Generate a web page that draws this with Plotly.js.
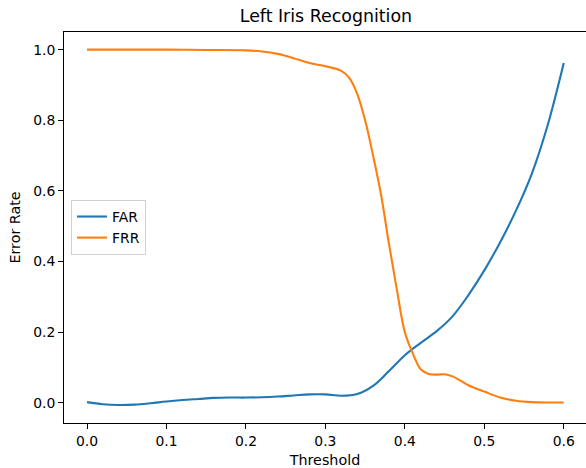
<!DOCTYPE html>
<html>
<head>
<meta charset="utf-8">
<script src="https://cdn.plot.ly/plotly-3.0.1.min.js"></script>
<style>html,body{margin:0;padding:0;background:#fff;}#chart{width:586px;height:468px;}</style>
</head>
<body>
<div id="chart"></div>
<script>
const farX = [0.00,0.02,0.04,0.06,0.08,0.10,0.12,0.14,0.16,0.18,0.20,0.22,0.24,0.26,0.28,0.30,0.32,0.34,0.36,0.38,0.40,0.42,0.44,0.46,0.48,0.50,0.52,0.54,0.56,0.58,0.60];
const farY = [0.002,-0.004,-0.006,-0.005,-0.001,0.004,0.008,0.011,0.014,0.015,0.015,0.016,0.018,0.021,0.024,0.024,0.020,0.025,0.048,0.090,0.135,0.170,0.203,0.245,0.305,0.375,0.455,0.545,0.650,0.788,0.962];
const frrX = [0.00,0.05,0.10,0.15,0.20,0.22,0.24,0.26,0.28,0.30,0.32,0.33,0.34,0.35,0.36,0.37,0.38,0.39,0.40,0.41,0.42,0.43,0.44,0.45,0.46,0.47,0.48,0.50,0.52,0.54,0.56,0.58,0.60];
const frrY = [1.000,1.000,1.000,0.999,0.998,0.995,0.988,0.976,0.962,0.953,0.940,0.920,0.875,0.800,0.700,0.590,0.450,0.320,0.200,0.140,0.095,0.082,0.080,0.081,0.075,0.063,0.050,0.032,0.015,0.006,0.002,0.001,0.001];
const seriesNames = ["FAR","FRR"];
const xTicks = [0.0,0.1,0.2,0.3,0.4,0.5,0.6];
const xTickText = ["0.0","0.1","0.2","0.3","0.4","0.5","0.6"];
const yTicks = [0.0,0.2,0.4,0.6,0.8,1.0];
const yTickText = ["0.0","0.2","0.4","0.6","0.8","1.0"];

const font = "DejaVu Sans, sans-serif";
const traces = [
  {x: farX, y: farY, name: seriesNames[0], mode: "lines", line: {color: "#1f77b4", width: 2.1, shape: "spline", smoothing: 1}},
  {x: frrX, y: frrY, name: seriesNames[1], mode: "lines", line: {color: "#ff7f0e", width: 2.1, shape: "spline", smoothing: 1}}
];
const axisCommon = {
  showgrid: false, zeroline: false, showline: true, linecolor: "#000", linewidth: 1,
  mirror: true, ticks: "outside", ticklen: 5, tickwidth: 1, tickcolor: "#000",
  tickfont: {family: font, size: 13.9, color: "#000"}
};
const layout = {
  width: 586, height: 468,
  margin: {l: 64, r: 0, t: 32, b: 45},
  paper_bgcolor: "#fff", plot_bgcolor: "#fff",
  font: {family: font, color: "#000"},
  title: {text: "Left Iris Recognition", font: {family: font, size: 17.4, color: "#000"}, x: 0.5562, xanchor: "center", y: 0.965, yanchor: "middle"},
  xaxis: Object.assign({}, axisCommon, {range: [-0.029, 0.628], tickvals: xTicks, ticktext: xTickText,
    title: {text: "Threshold", font: {family: font, size: 14.3}, standoff: 7}}),
  yaxis: Object.assign({}, axisCommon, {range: [-0.057, 1.05], tickvals: yTicks, ticktext: yTickText,
    title: {text: "Error Rate", font: {family: font, size: 14.3}, standoff: 9}}),
  showlegend: true,
  legend: {x: 0.0134, xanchor: "left", y: 0.50, yanchor: "middle", bgcolor: "rgba(255,255,255,0.8)",
    bordercolor: "#d0d0d0", borderwidth: 1, font: {family: font, size: 13.9}, itemwidth: 30, tracegroupgap: 0}
};
Plotly.newPlot("chart", traces, layout, {displayModeBar: false, staticPlot: true});
</script>
</body>
</html>
